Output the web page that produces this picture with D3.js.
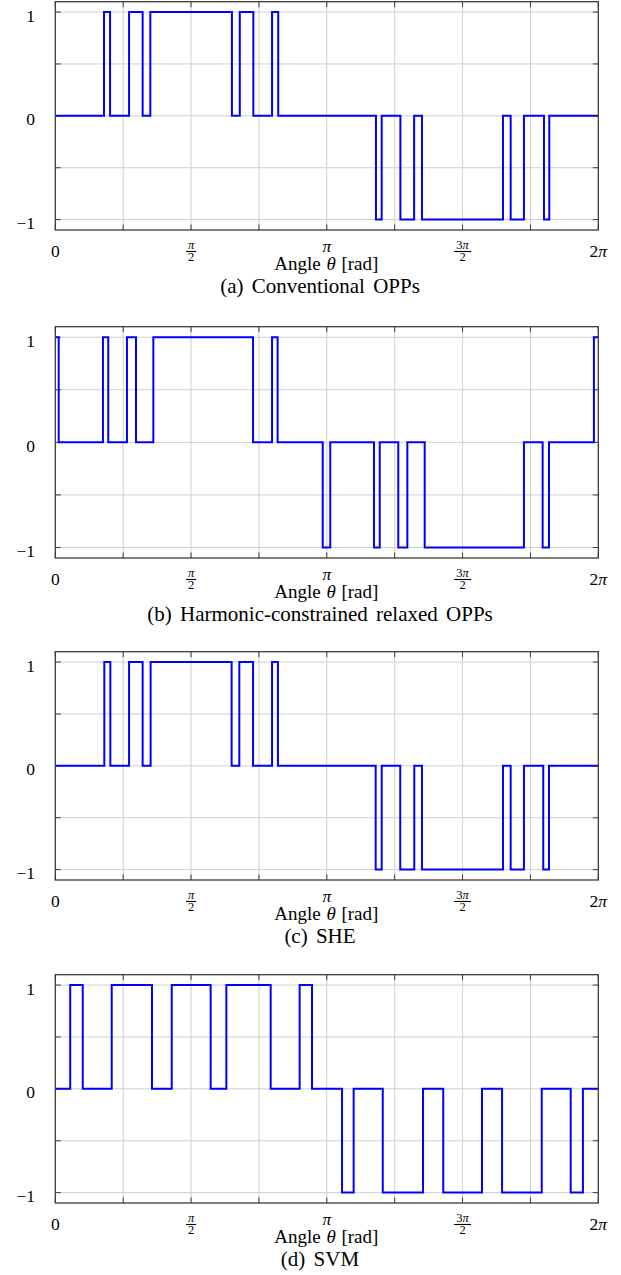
<!DOCTYPE html>
<html><head><meta charset="utf-8">
<script src="https://cdn.jsdelivr.net/npm/d3@7"></script>
<style>
body{margin:0;background:#fff}
svg{display:block}
</style>
</head><body>
<svg id="c" width="621" height="1275"></svg>
<script>
// ---------------- data (switching angles in degrees, level after each switch) ----------------
const captions = ["(a) Conventional OPPs", "(b) Harmonic-constrained relaxed OPPs", "(c) SHE", "(d) SVM"];
const startLevels = [0, 1, 0, 0];

const anglesA = [32.3, 36.3, 48.9, 57.9, 63.0, 117.1, 122.3, 131.3, 143.7, 147.8,
                 212.6, 216.4, 228.8, 237.9, 243.1, 296.8, 301.9, 310.7, 324.0, 327.5];
const levelsA = [1, 0, 1, 0, 1, 0, 1, 0, 1, 0, -1, 0, -1, 0, -1, 0, -1, 0, -1, 0];

const anglesB = [2.25, 31.6, 35.1, 47.5, 53.5, 65.0, 131.1, 143.7, 147.4, 177.3,
                 182.3, 211.3, 215.1, 227.4, 233.4, 244.9, 310.7, 323.1, 327.3, 357.1];
const levelsB = [0, 1, 0, 1, 0, 1, 0, 1, 0, -1, 0, -1, 0, -1, 0, -1, 0, -1, 0, 1];

const anglesC = [32.5, 36.5, 48.9, 57.9, 63.2, 116.9, 122.0, 131.1, 143.7, 147.6,
                 212.4, 216.4, 228.7, 238.0, 243.1, 296.8, 301.9, 310.7, 323.5, 327.3];
const levelsC = [1, 0, 1, 0, 1, 0, 1, 0, 1, 0, -1, 0, -1, 0, -1, 0, -1, 0, -1, 0];

const anglesD = [9.9, 18.2, 37.4, 64.1, 77.2, 103.0, 113.4, 142.8, 162.0, 170.2,
                 190.1, 197.8, 217.1, 243.8, 257.2, 282.9, 296.2, 322.5, 341.7, 349.8];
const levelsD = [1, 0, 1, 0, 1, 0, 1, 0, 1, 0, -1, 0, -1, 0, -1, 0, -1, 0, -1, 0];

const xTickMultiples = [0, 0.25, 0.5, 0.75, 1, 1.25, 1.5, 1.75, 2]; // × π
const xLabelMultiples = [0, 0.5, 1, 1.5, 2];
const yTicks = [-1, -0.5, 0, 0.5, 1];
const yLabelValues = [-1, 0, 1];
const yLabels = ["\u22121", "0", "1"];
const xAxisLabel = "Angle";

// ---------------- layout ----------------
const FONT = "'Liberation Serif', 'Times New Roman', Times, 'Nimbus Roman', serif";
const svg = d3.select("#c");
const L = 55.3, R = 598.3;
const tops = [1.7, 326.7, 651.7, 974.7];
const bottoms = [230, 558, 880, 1203];
const panels = [
  [anglesA, levelsA], [anglesB, levelsB], [anglesC, levelsC], [anglesD, levelsD]
];
const frameCol = "#3c3c3c", gridCol = "#cfcfcf";

const x = d3.scaleLinear().domain([0, 2 * Math.PI]).range([L, R]);

function txt(g, xx, yy, size, anchor) {
  return g.append("text").attr("x", xx).attr("y", yy)
    .attr("text-anchor", anchor).style("font-family", FONT)
    .style("font-size", size + "px").style("fill", "#000");
}

panels.forEach(([ang, lev], i) => {
  const T = tops[i], B = bottoms[i];
  const y = d3.scaleLinear().domain([-1.1, 1.1]).range([B, T]);
  const g = svg.append("g");

  // grid
  g.selectAll(".gx").data(xTickMultiples.slice(1, -1)).join("line")
    .attr("x1", d => x(d * Math.PI)).attr("x2", d => x(d * Math.PI))
    .attr("y1", T).attr("y2", B).attr("stroke", gridCol).attr("stroke-width", 1);
  g.selectAll(".gy").data(yTicks).join("line")
    .attr("x1", L).attr("x2", R)
    .attr("y1", d => y(d)).attr("y2", d => y(d)).attr("stroke", gridCol).attr("stroke-width", 1);

  // ticks (inward, all sides)
  const tl = 5.5;
  xTickMultiples.forEach(m => {
    const xx = x(m * Math.PI);
    g.append("line").attr("x1", xx).attr("x2", xx).attr("y1", B).attr("y2", B - tl)
      .attr("stroke", frameCol).attr("stroke-width", 1);
    g.append("line").attr("x1", xx).attr("x2", xx).attr("y1", T).attr("y2", T + tl)
      .attr("stroke", frameCol).attr("stroke-width", 1);
  });
  yTicks.forEach(v => {
    const yy = y(v);
    g.append("line").attr("x1", L).attr("x2", L + tl).attr("y1", yy).attr("y2", yy)
      .attr("stroke", frameCol).attr("stroke-width", 1);
    g.append("line").attr("x1", R).attr("x2", R - tl).attr("y1", yy).attr("y2", yy)
      .attr("stroke", frameCol).attr("stroke-width", 1);
  });

  // step waveform
  const pts = [{a: 0, v: startLevels[i]}];
  ang.forEach((a, k) => pts.push({a: a * Math.PI / 180, v: lev[k]}));
  pts.push({a: 2 * Math.PI, v: lev[lev.length - 1]});
  const line = d3.line().x(d => x(d.a)).y(d => y(d.v)).curve(d3.curveStepAfter);
  g.append("path").datum(pts).attr("d", line)
    .attr("fill", "none").attr("stroke", "#0000ff").attr("stroke-width", 2)
    .attr("stroke-linejoin", "miter");

  // frame
  g.append("rect").attr("x", L).attr("y", T).attr("width", R - L).attr("height", B - T)
    .attr("fill", "none").attr("stroke", frameCol).attr("stroke-width", 1.3);

  // y labels
  yLabelValues.forEach((v, k) => {
    txt(g, 35, y(v) + 9.5, 17.5, "end").text(yLabels[k]);
  });

  // x labels
  xLabelMultiples.forEach(m => {
    const xx = x(m * Math.PI);
    if (m === 0) {
      txt(g, xx, B + 26.5, 17.5, "middle").text("0");
    } else if (m === 1) {
      txt(g, xx, B + 22, 17.5, "middle").style("font-style", "italic").text("\u03c0");
    } else if (m === 2) {
      const t = txt(g, xx, B + 26.5, 17.5, "middle");
      t.append("tspan").text("2");
      t.append("tspan").style("font-style", "italic").text("\u03c0");
    } else {
      const num = m === 0.5 ? "" : "3";
      const bw = m === 0.5 ? 10 : 17;
      const t = txt(g, xx, B + 18.7, 12.5, "middle");
      if (num) t.append("tspan").text(num);
      t.append("tspan").style("font-style", "italic").text("\u03c0");
      g.append("line").attr("x1", xx - bw / 2).attr("x2", xx + bw / 2)
        .attr("y1", B + 21.5).attr("y2", B + 21.5).attr("stroke", "#000").attr("stroke-width", 1.1);
      txt(g, xx, B + 31.3, 12.5, "middle").text("2");
    }
  });

  // axis label
  const al = txt(g, 326.3, B + 39.7, 19, "middle").style("word-spacing", "1px");
  al.append("tspan").text(xAxisLabel + " ");
  al.append("tspan").style("font-style", "italic").text("\u03b8");
  al.append("tspan").text(" [rad]");

  // caption
  txt(g, 320, B + 63, 21, "middle").style("word-spacing", "3px").text(captions[i]);
});
</script>
</body></html>
